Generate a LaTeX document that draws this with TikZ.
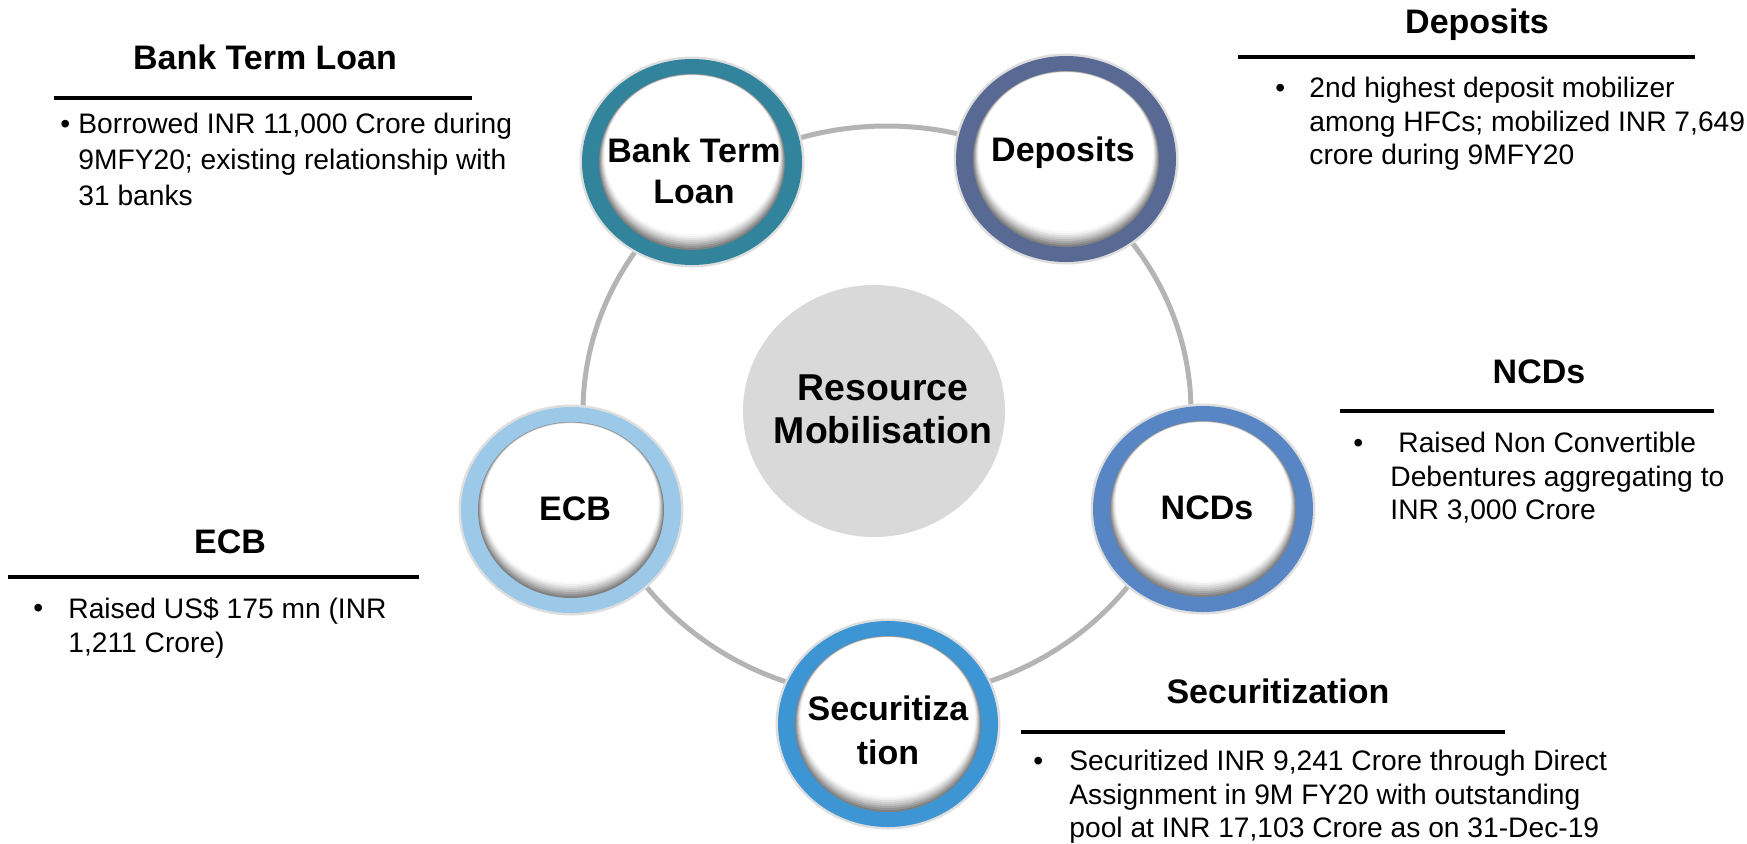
\documentclass[tikz,border=0pt]{standalone}
\usepackage{fontspec}
\setmainfont{Liberation Sans}
\definecolor{cBTL}{HTML}{31849B}
\definecolor{cDEP}{HTML}{586A94}
\definecolor{cNCD}{HTML}{5886C5}
\definecolor{cECB}{HTML}{9DC9E9}
\definecolor{cSEC}{HTML}{3D96D3}
\definecolor{ringgray}{HTML}{B4B4B4}
\definecolor{centergray}{HTML}{D9D9D9}
\newcommand\satdisk[3]{%
  \fill[black!13] (#1,#2) ellipse [x radius=112.5, y radius=105.5];
  \fill[#3] (#1,#2) ellipse [x radius=110, y radius=103];
  \fill[black!50] (#1,#2) ellipse [x radius=93, y radius=88];
  \foreach \k/\sh in {1/42,2/34,3/26,4/19,5/12,6/6,7/2,8/0} {
    \fill[black!\sh] (#1,#2-0.9*\k) ellipse [x radius=93-0.75*\k, y radius=88-1.1*\k];
  }
}
\tikzset{
  lbl/.style={font=\fontsize{17}{20.5}\selectfont\bfseries, inner sep=0, align=center},
  lblone/.style={font=\fontsize{17}{20.5}\selectfont\bfseries, inner sep=0, anchor=base},
  head/.style={font=\fontsize{17}{20}\selectfont\bfseries, inner sep=0, anchor=base},
  bodyA/.style={font=\fontsize{14.1}{18}\selectfont, inner sep=0, anchor=north west, align=left},
  bodyB/.style={font=\fontsize{14.1}{16.75}\selectfont, inner sep=0, anchor=north west, align=left},
  bodyC/.style={font=\fontsize{14.1}{17}\selectfont, inner sep=0, anchor=north west, align=left},
  bul/.style={font=\fontsize{14.1}{17}\selectfont, inner sep=0, anchor=base west},
  rulel/.style={line width=1.65pt, black},
}
\begin{document}
\begin{tikzpicture}[x=0.5pt,y=-0.5pt]
\useasboundingbox (0,0) rectangle (1747,843);
\fill[white] (0,0) rectangle (1747,843);

% cycle ring
\draw[ringgray, line width=2.5pt] (887,412) ellipse [x radius=304, y radius=286];

% centre
\fill[centergray] (874,411) ellipse [x radius=131, y radius=126];
\node[lbl, font=\fontsize{18.7}{21.5}\selectfont\bfseries] (centre) at (883,409.5) {Resource\\Mobilisation};

% satellites
\satdisk{692}{162}{cBTL}
\node[lbl] (btl) at (694,171) {Bank Term\\Loan};

\satdisk{1066}{159}{cDEP}
\node[lblone] (dep) at (1063,161) {Deposits};

\satdisk{1203}{509}{cNCD}
\node[lblone] (ncd) at (1207,519) {NCDs};

\satdisk{571}{510}{cECB}
\node[lblone] (ecb) at (575,520) {ECB};

\satdisk{888}{724}{cSEC}
\node[lbl, font=\fontsize{17}{22}\selectfont\bfseries] (sec) at (888,730.5) {Securitiza\\tion};

% Bank Term Loan block
\node[head] (hbtl) at (265,69) {Bank Term Loan};
\draw[rulel] (54,98) -- (472,98);
\node[bul] (bbtl) at (60,133) {•};
\node[bodyA] (tbtl) at (78,113) {Borrowed INR 11,000 Crore during\\9MFY20; existing relationship with\\31 banks};

% Deposits block
\node[head] (hdep) at (1477,33) {Deposits};
\draw[rulel] (1238,57) -- (1695,57);
\node[bul] (bdep) at (1275,97) {•};
\node[bodyB] (tdep) at (1309,77) {2nd highest deposit mobilizer\\among HFCs; mobilized INR 7,649\\crore during 9MFY20};

% NCDs block
\node[head] (hncd) at (1539,383) {NCDs};
\draw[rulel] (1340,411) -- (1714,411);
\node[bul] (bncd) at (1353,452) {•};
\node[bodyB] (tncd) at (1390,432) {\hspace{4pt}Raised Non Convertible\\Debentures aggregating to\\INR 3,000 Crore};

% ECB block
\node[head] (hecb) at (230,553) {ECB};
\draw[rulel] (8,577) -- (419,577);
\node[bul] (becb) at (33,617) {•};
\node[bodyC] (tecb) at (68,597) {Raised US\$ 175 mn (INR\\1,211 Crore)};

% Securitization block
\node[head] (hsec) at (1278,703) {Securitization};
\draw[rulel] (1021,732) -- (1505,732);
\node[bul] (bsec) at (1033,770) {•};
\node[bodyB] (tsec) at (1069,750) {Securitized INR 9,241 Crore through Direct\\Assignment in 9M FY20 with outstanding\\pool at INR 17,103 Crore as on 31-Dec-19};
\end{tikzpicture}
\end{document}
